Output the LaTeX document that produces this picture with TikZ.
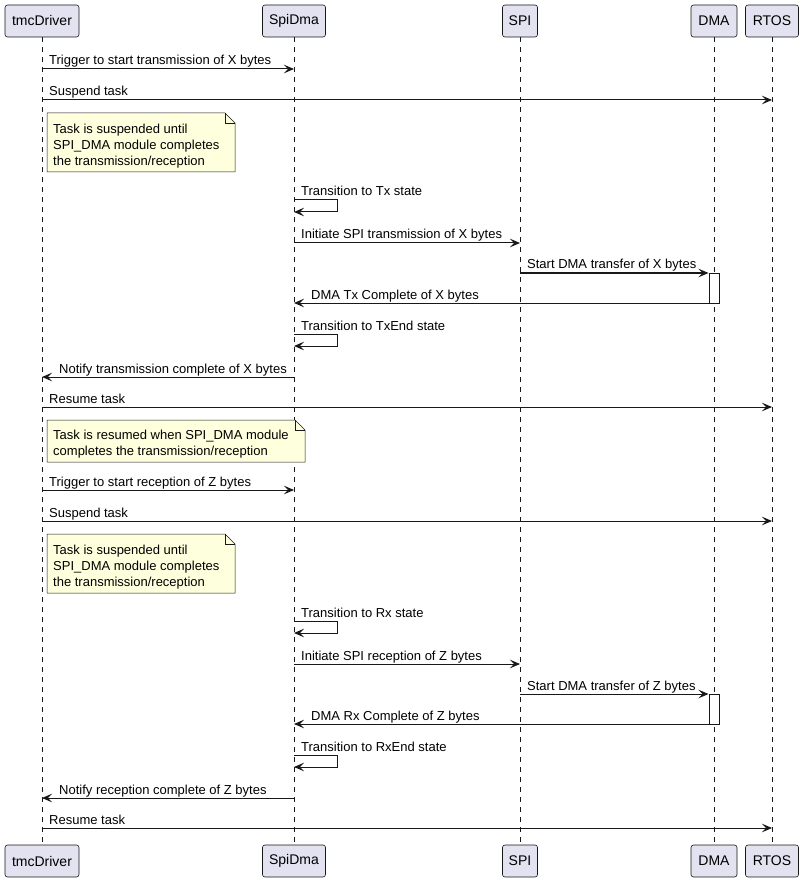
\documentclass[tikz,border=0pt]{standalone}
\usepackage{fontspec}
\setmainfont{Liberation Sans}
\usetikzlibrary{arrows.meta,calc}
\definecolor{ink}{HTML}{181818}
\definecolor{partfill}{HTML}{E2E2F0}
\definecolor{notefill}{HTML}{FEFFDD}

% message helpers: source, target, y, label, label-node name
\newcommand\sendR[5]{%
  \draw[msg] (#1 |- 0,#3) -- (#2 |- 0,#3);
  \node[lbl] (#5) at ($(#1 |- 0,#3)+(7,-4)$) {#4};}
\newcommand\sendL[5]{%
  \draw[msg] (#1 |- 0,#3) -- (#2 |- 0,#3);
  \node[lbl] (#5) at ($(#2 |- 0,#3)+(17,-4)$) {#4};}
% self message: participant, y, label, label-node name
\newcommand\sendSelf[4]{%
  \draw[msg] (#1 |- 0,#2) -- ++(43,0) -- ++(0,12) -- ++(-43,0);
  \node[lbl] (#4) at ($(#1 |- 0,#2)+(7,-4)$) {#3};}
% note with folded corner: x1, y1, x2, y2
\newcommand\noteshape[4]{%
  \draw[notebox] (#1,#2) -- (#3-10,#2) -- (#3,#2+10) -- (#3,#4) -- (#1,#4) -- cycle;
  \draw[notebox, fill=none] (#3-10,#2) -- (#3-10,#2+10) -- (#3,#2+10);}

\begin{document}
\begin{tikzpicture}[x=1pt, y=-1pt,
  part/.style={draw=ink, fill=partfill, rounded corners=2.5pt, line width=0.6pt,
    minimum height=32pt, inner sep=0pt, font=\fontsize{14}{16}\selectfont},
  lifeline/.style={draw=ink, line width=0.5pt, dash pattern=on 5pt off 5pt},
  msg/.style={draw=ink, line width=1pt, -{Stealth[length=10pt,width=8.5pt,inset=4pt]}},
  lbl/.style={anchor=base west, inner sep=0pt, font=\fontsize{13}{15}\selectfont},
  notebox/.style={draw=ink, fill=notefill, line width=0.5pt},
  notetxt/.style={anchor=north west, inner sep=0pt, align=left,
    font=\fontsize{13}{16}\selectfont},
  actbox/.style={draw=ink, fill=white, line width=1pt, minimum width=10pt,
    minimum height=30pt, inner sep=0pt}]

\useasboundingbox (0,0) rectangle (804,882);
\fill[white] (0,0) rectangle (804,882);

% participants (top and bottom)
\node[part, minimum width=74pt] (tmcT)  at (42,21)  {tmcDriver};
\node[part, minimum width=63pt] (spidT) at (294,21) {SpiDma};
\node[part, minimum width=35pt] (spiT)  at (520,21) {SPI};
\node[part, minimum width=46pt] (dmaT)  at (714,21) {DMA};
\node[part, minimum width=53pt] (rtosT) at (772,21) {RTOS};

\node[part, minimum width=74pt] (tmcB)  at (42,861)  {tmcDriver};
\node[part, minimum width=63pt] (spidB) at (294,861) {SpiDma};
\node[part, minimum width=35pt] (spiB)  at (520,861) {SPI};
\node[part, minimum width=46pt] (dmaB)  at (714,861) {DMA};
\node[part, minimum width=53pt] (rtosB) at (772,861) {RTOS};

% lifelines
\draw[lifeline] (tmcT.south)  -- (tmcB.north);
\draw[lifeline] (spidT.south) -- (spidB.north);
\draw[lifeline] (spiT.south)  -- (spiB.north);
\draw[lifeline] (dmaT.south)  -- (dmaB.north);
\draw[lifeline] (rtosT.south) -- (rtosB.north);

% DMA activations
\node[actbox] (act1) at (714,288) {};
\node[actbox] (act2) at (714,709) {};

% notes
\noteshape{47}{113}{235}{172}
\node[notetxt] (note1) at (53,123.5) {Task is suspended until\\SPI\_DMA module completes\\the transmission/reception};
\noteshape{47}{420}{305}{462}
\node[notetxt] (note2) at (53,429.5) {Task is resumed when SPI\_DMA module\\completes the transmission/reception};
\noteshape{47}{534}{235}{593}
\node[notetxt] (note3) at (53,544.5) {Task is suspended until\\SPI\_DMA module completes\\the transmission/reception};

% transmission of X bytes
\sendR{tmcT}{spidT}{69}{Trigger to start transmission of X bytes}{m1}
\sendR{tmcT}{rtosT}{100}{Suspend task}{m2}
\sendSelf{spidT}{200}{Transition to Tx state}{m3}
\sendR{spidT}{spiT}{243}{Initiate SPI transmission of X bytes}{m4}
\sendR{spiT}{act1.north west}{273}{Start DMA transfer of X bytes}{m5}
\sendL{act1.south west}{spidT}{303}{DMA Tx Complete of X bytes}{m6}
\sendSelf{spidT}{334}{Transition to TxEnd state}{m7}
\sendL{spidT}{tmcT}{377}{Notify transmission complete of X bytes}{m8}
\sendR{tmcT}{rtosT}{407}{Resume task}{m9}

% reception of Z bytes
\sendR{tmcT}{spidT}{490}{Trigger to start reception of Z bytes}{m10}
\sendR{tmcT}{rtosT}{521}{Suspend task}{m11}
\sendSelf{spidT}{621}{Transition to Rx state}{m12}
\sendR{spidT}{spiT}{664}{Initiate SPI reception of Z bytes}{m13}
\sendR{spiT}{act2.north west}{694}{Start DMA transfer of Z bytes}{m14}
\sendL{act2.south west}{spidT}{724}{DMA Rx Complete of Z bytes}{m15}
\sendSelf{spidT}{755}{Transition to RxEnd state}{m16}
\sendL{spidT}{tmcT}{798}{Notify reception complete of Z bytes}{m17}
\sendR{tmcT}{rtosT}{828}{Resume task}{m18}

\end{tikzpicture}
\end{document}
